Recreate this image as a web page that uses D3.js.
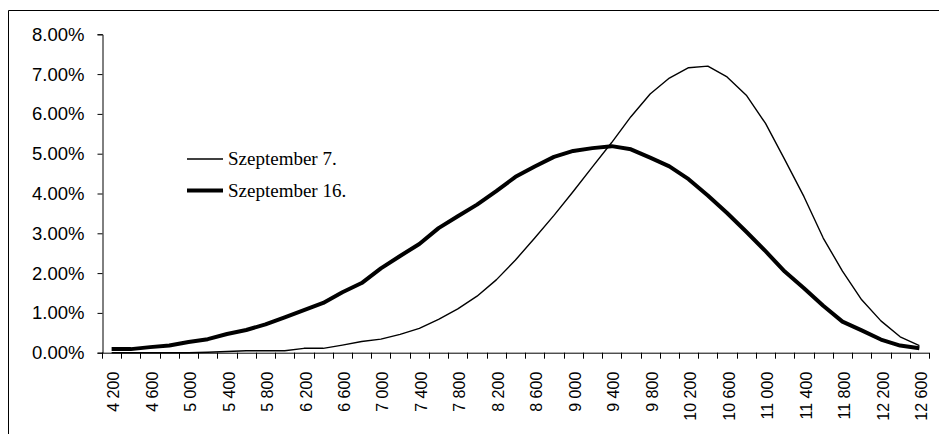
<!DOCTYPE html>
<html>
<head>
<meta charset="utf-8">
<script src="https://cdn.jsdelivr.net/npm/d3@7"></script>
<style>
  html, body { margin: 0; padding: 0; background: #fff; }
  svg { display: block; }
</style>
</head>
<body>
<svg id="chart" width="939" height="434"></svg>
<script>
const categories = [4200, 4400, 4600, 4800, 5000, 5200, 5400, 5600, 5800, 6000, 6200, 6400, 6600, 6800,
  7000, 7200, 7400, 7600, 7800, 8000, 8200, 8400, 8600, 8800, 9000, 9200, 9400, 9600, 9800, 10000,
  10200, 10400, 10600, 10800, 11000, 11200, 11400, 11600, 11800, 12000, 12200, 12400, 12600];

// values in percent
const sept7 = [0.00, 0.00, 0.00, 0.00, 0.00, 0.01, 0.03, 0.05, 0.05, 0.05, 0.11, 0.11, 0.19, 0.28,
  0.34, 0.46, 0.61, 0.84, 1.10, 1.42, 1.83, 2.33, 2.88, 3.45, 4.05, 4.67, 5.28, 5.93, 6.50, 6.90,
  7.16, 7.20, 6.93, 6.47, 5.76, 4.85, 3.92, 2.88, 2.05, 1.33, 0.80, 0.40, 0.18];

const sept16 = [0.09, 0.09, 0.14, 0.18, 0.27, 0.34, 0.47, 0.57, 0.71, 0.89, 1.07, 1.25, 1.52, 1.75,
  2.12, 2.43, 2.73, 3.13, 3.43, 3.72, 4.06, 4.42, 4.68, 4.92, 5.07, 5.14, 5.19, 5.11, 4.90, 4.68,
  4.36, 3.95, 3.51, 3.04, 2.55, 2.04, 1.62, 1.18, 0.78, 0.56, 0.33, 0.18, 0.11];

const yTicks = [0, 0.01, 0.02, 0.03, 0.04, 0.05, 0.06, 0.07, 0.08];
const seriesNames = ["Szeptember 7.", "Szeptember 16."];

const svg = d3.select("#chart");

// outer border (cropped on right and bottom)
svg.append("path")
  .attr("d", "M8.5,434 V10.5 H939")
  .attr("fill", "none").attr("stroke", "#000").attr("stroke-width", 1);

const plotLeft = 102, plotRight = 929, plotTop = 34.3, plotBottom = 352.7;

const x = d3.scaleBand().domain(categories).range([plotLeft, plotRight]).padding(0);
const y = d3.scaleLinear().domain([0, 0.08]).range([plotBottom, plotTop]);

// y axis
const yAxis = svg.append("g")
  .attr("transform", `translate(${plotLeft + 0.5},0)`)
  .call(d3.axisLeft(y).tickValues(yTicks).tickFormat(d3.format(".2%")).tickSize(5).tickPadding(13));
yAxis.selectAll("text")
  .attr("font-family", "'Liberation Sans', Arial, sans-serif")
  .attr("font-size", "18.5px").attr("fill", "#000");
yAxis.selectAll("line, path").attr("stroke", "#000");

// x axis line
const gx = svg.append("g");
gx.append("line")
  .attr("x1", plotLeft).attr("x2", plotRight)
  .attr("y1", plotBottom + 0.5).attr("y2", plotBottom + 0.5)
  .attr("stroke", "#000");
// ticks between categories
const boundaries = categories.map(c => x(c)).concat([x(categories[categories.length - 1]) + x.bandwidth()]);
gx.selectAll("line.tick").data(boundaries).enter().append("line")
  .attr("class", "tick")
  .attr("x1", d => Math.round(d) + 0.5).attr("x2", d => Math.round(d) + 0.5)
  .attr("y1", plotBottom).attr("y2", plotBottom + 6)
  .attr("stroke", "#000");

// x labels every other category
const fmt = v => {
  const s = String(v);
  return s.slice(0, s.length - 3) + "\u00a0" + s.slice(s.length - 3);
};
gx.selectAll("text.xl").data(categories.filter((c, i) => i % 2 === 0)).enter().append("text")
  .attr("class", "xl")
  .attr("transform", d => `translate(${x(d) + x.bandwidth() / 2 + 2},${plotBottom + 19}) rotate(-90)`)
  .attr("text-anchor", "end")
  .attr("dy", "0.35em")
  .attr("font-family", "'Liberation Sans', Arial, sans-serif")
  .attr("font-size", "16px")
  .attr("fill", "#000")
  .text(fmt);

// lines
const line = d3.line()
  .x((d, i) => x(categories[i]) + x.bandwidth() / 2)
  .y(d => y(d / 100));

svg.append("path").datum(sept7)
  .attr("d", line).attr("fill", "none")
  .attr("stroke", "#000").attr("stroke-width", 1.4).attr("stroke-linejoin", "round");

svg.append("path").datum(sept16)
  .attr("d", line).attr("fill", "none")
  .attr("stroke", "#000").attr("stroke-width", 4).attr("stroke-linejoin", "round");

// legend
const legend = svg.append("g");
const legY = [159, 190.5];
const legW = [1.4, 4];
seriesNames.forEach((name, i) => {
  legend.append("line")
    .attr("x1", 187).attr("x2", 223)
    .attr("y1", legY[i]).attr("y2", legY[i])
    .attr("stroke", "#000").attr("stroke-width", legW[i]);
  legend.append("text")
    .attr("x", 228).attr("y", legY[i])
    .attr("dy", "0.33em")
    .attr("font-family", "'Liberation Serif', 'Times New Roman', serif")
    .attr("font-size", "19px")
    .attr("fill", "#000")
    .text(name);
});
</script>
</body>
</html>
